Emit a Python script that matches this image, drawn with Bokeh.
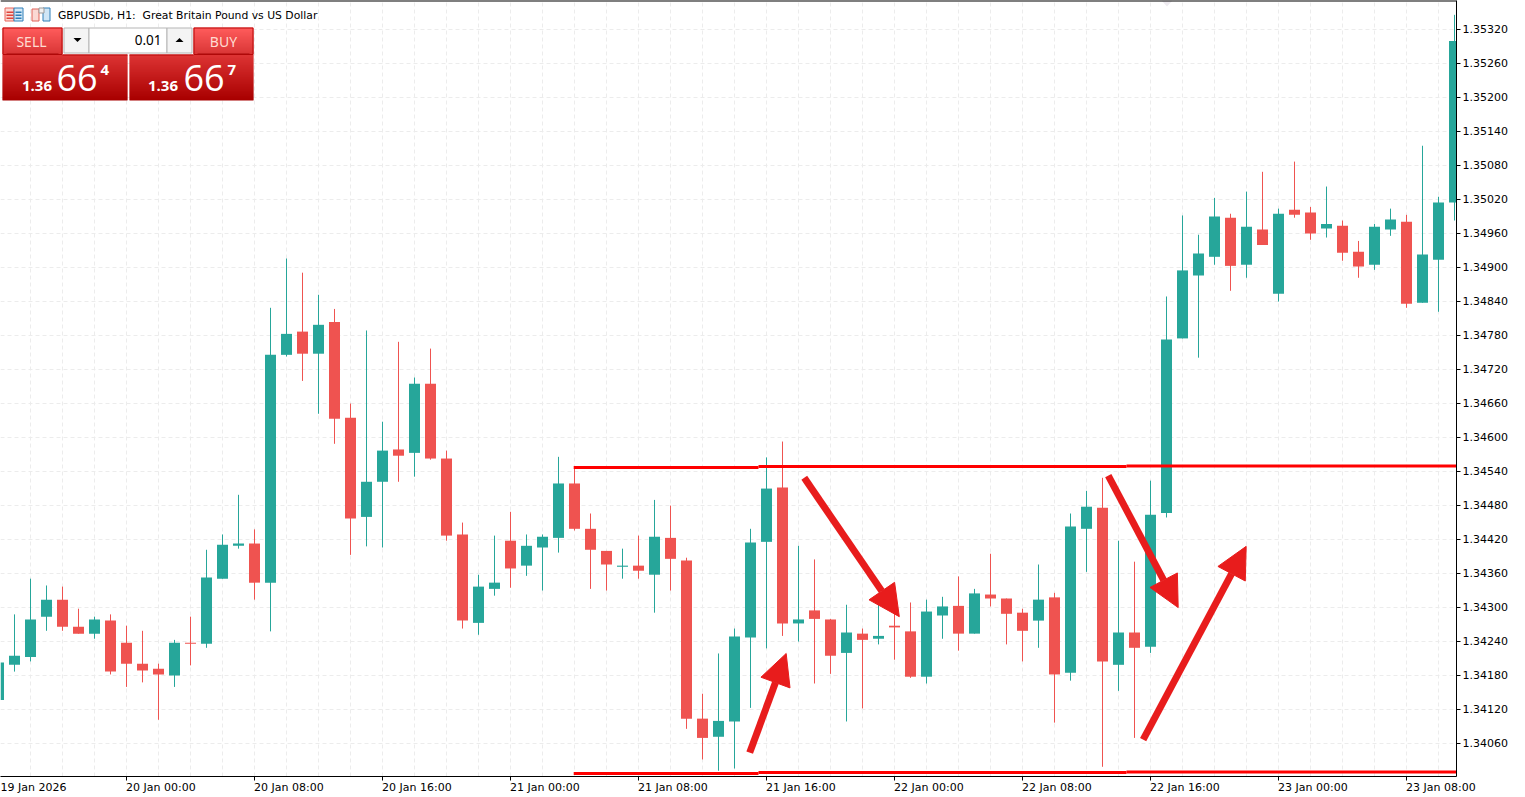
from bokeh.plotting import figure
from bokeh.models import FixedTicker, Arrow, NormalHead, Span, Range1d
from bokeh.core.properties import value
from bokeh.embed import file_html
from bokeh.resources import INLINE

opens = [1.34136,1.34198,1.34212,1.34283,1.34313,1.34265,1.34253,1.34276,1.34237,1.34200,1.34191,1.34179,1.34237,1.34235,1.34350,1.34408,
1.34412,1.34343,1.34745,1.34786,1.34747,1.34803,1.34634,1.34459,1.34521,1.34578,1.34572,1.34694,1.34562,1.34428,1.34272,1.34332,
1.34417,1.34373,1.34405,1.34422,1.34518,1.34438,1.34399,1.34371,1.34373,1.34357,1.34422,1.34382,1.34103,1.34071,1.34098,1.34246,
1.34415,1.34511,1.34271,1.34294,1.34278,1.34219,1.34253,1.34244,1.34267,1.34257,1.34177,1.34285,1.34302,1.34253,1.34322,1.34315,
1.34290,1.34276,1.34317,1.34184,1.34438,1.34475,1.34198,1.34255,1.34230,1.34466,1.34774,1.34885,1.34918,1.34987,1.34904,1.34966,
1.34853,1.35001,1.34996,1.34968,1.34973,1.34927,1.34904,1.34966,1.34980,1.34837,1.34913,1.35014]
closes = [1.34202,1.34214,1.34278,1.34313,1.34265,1.34253,1.34278,1.34186,1.34200,1.34188,1.34181,1.34237,1.34235,1.34352,1.34410,1.34412,
1.34343,1.34745,1.34782,1.34747,1.34798,1.34632,1.34456,1.34521,1.34576,1.34567,1.34694,1.34562,1.34426,1.34276,1.34336,1.34343,
1.34368,1.34408,1.34424,1.34518,1.34438,1.34401,1.34375,1.34373,1.34364,1.34424,1.34385,1.34103,1.34069,1.34099,1.34248,1.34414,
1.34509,1.34271,1.34278,1.34279,1.34214,1.34255,1.34242,1.34249,1.34264,1.34177,1.34292,1.34301,1.34253,1.34324,1.34315,1.34288,
1.34258,1.34313,1.34181,1.34442,1.34477,1.34204,1.34255,1.34228,1.34463,1.34772,1.34894,1.34924,1.34989,1.34902,1.34971,1.34939,
1.34994,1.34992,1.34959,1.34976,1.34925,1.34901,1.34971,1.34984,1.34835,1.34922,1.35014,1.35299]
highs = [1.34214,1.34287,1.34350,1.34338,1.34336,1.34297,1.34283,1.34287,1.34267,1.34258,1.34200,1.34242,1.34283,1.34401,1.34428,1.34498,
1.34437,1.34828,1.34915,1.34890,1.34851,1.34826,1.34659,1.34788,1.34627,1.34768,1.34705,1.34756,1.34576,1.34449,1.34357,1.34426,
1.34468,1.34428,1.34428,1.34565,1.34546,1.34465,1.34399,1.34403,1.34426,1.34489,1.34479,1.34387,1.34147,1.34218,1.34262,1.34438,
1.34564,1.34592,1.34408,1.34384,1.34279,1.34304,1.34262,1.34304,1.34288,1.34308,1.34313,1.34318,1.34354,1.34332,1.34394,1.34315,
1.34297,1.34375,1.34325,1.34465,1.34505,1.34528,1.34417,1.34380,1.34523,1.34848,1.34991,1.34957,1.35022,1.34994,1.35033,1.35068,
1.35003,1.35086,1.35006,1.35042,1.34982,1.34946,1.34976,1.35003,1.34992,1.35114,1.35024,1.35345]
lows = [1.34126,1.34186,1.34204,1.34258,1.34258,1.34253,1.34244,1.34181,1.34159,1.34167,1.34101,1.34159,1.34197,1.34228,1.34350,1.34403,
1.34313,1.34257,1.34742,1.34699,1.34641,1.34588,1.34392,1.34407,1.34405,1.34521,1.34530,1.34560,1.34417,1.34262,1.34251,1.34320,
1.34334,1.34355,1.34329,1.34396,1.34435,1.34332,1.34329,1.34350,1.34350,1.34290,1.34329,1.34085,1.34031,1.34011,1.34015,1.34122,
1.34227,1.34249,1.34239,1.34165,1.34182,1.34098,1.34121,1.34234,1.34207,1.34175,1.34165,1.34244,1.34223,1.34253,1.34301,1.34234,
1.34204,1.34228,1.34096,1.34170,1.34362,1.34018,1.34152,1.34069,1.34219,1.34458,1.34774,1.34740,1.34904,1.34858,1.34881,1.34939,
1.34839,1.34987,1.34948,1.34952,1.34911,1.34881,1.34895,1.34955,1.34828,1.34837,1.34821,1.34982]

price_ticks = [1.34060,1.34120,1.34180,1.34240,1.34300,1.34360,1.34420,1.34480,1.34540,1.34600,1.34660,1.34720,1.34780,1.34840,
               1.34900,1.34960,1.35020,1.35080,1.35140,1.35200,1.35260,1.35320]
time_ticks = [8, 16, 24, 32, 40, 48, 56, 64, 72, 80, 88]
time_labels = ["20 Jan 00:00", "20 Jan 08:00", "20 Jan 16:00", "21 Jan 00:00", "21 Jan 08:00",
               "21 Jan 16:00", "22 Jan 00:00", "22 Jan 08:00", "22 Jan 16:00", "23 Jan 00:00", "23 Jan 08:00"]
first_label = "19 Jan 2026"

# drawn range levels: (start bar, end bar, price)
upper_levels = [(35.95, 47.5, 1.34546), (47.5, 70.5, 1.34548), (70.5, 91.2, 1.34549)]
lower_levels = [(35.95, 47.5, 1.34006), (47.5, 70.5, 1.34008), (70.5, 91.2, 1.34009)]
# drawn arrows: (tail bar, tail price, tip bar, tip price)
arrows = [(46.95, 1.34043, 49.23, 1.34218), (50.36, 1.34528, 56.30, 1.34283),
          (69.36, 1.34532, 73.73, 1.34299), (71.54, 1.34066, 77.98, 1.34407)]

GREEN, RED = "#26a69a", "#ef5350"
Y_LOW, Y_HIGH = 1.340009, 1.353703
X_LOW, X_HIGH = 0.125, 91.125


def X(px):
    return (px + 2) / 16


def Y(py):
    return Y_HIGH - py * (Y_HIGH - Y_LOW) / 776


p = figure(width=1525, height=797, frame_width=1456, frame_height=776, output_backend="svg", toolbar_location=None,
           x_range=Range1d(X_LOW, X_HIGH), y_range=Range1d(Y_LOW, Y_HIGH), y_axis_location="right",
           min_border_left=0, min_border_top=0, min_border_right=0, min_border_bottom=0,
           outline_line_color=None, background_fill_color="white")

ax = p.yaxis[0]
ax.ticker = FixedTicker(ticks=price_ticks)
ax.major_label_overrides = {t: f"{t:.5f}" for t in price_ticks}
ax.major_tick_in = 0
ax.major_tick_out = 4
ax.minor_tick_line_color = None
ax.axis_line_color = "#000000"
ax.major_tick_line_color = "#000000"
ax.major_label_text_font = "DejaVu Sans"
ax.major_label_text_font_size = "11px"
ax.major_label_text_color = "#000000"
ax.major_label_standoff = 2

# The labels start at their tick mark: major ticks (unmarked) sit at the label centres, minor ticks are the marks.
label_shift = 2.15
label_pos = [t + label_shift for t in time_ticks]
first_pos = X(32)
bx = p.xaxis[0]
bx.ticker = FixedTicker(ticks=[first_pos] + label_pos, minor_ticks=time_ticks)
bx.major_label_overrides = {first_pos: first_label, **dict(zip(label_pos, time_labels))}
bx.major_tick_in = 0
bx.major_tick_out = 4
bx.major_tick_line_color = None
bx.minor_tick_in = 0
bx.minor_tick_out = 4
bx.minor_tick_line_color = "#000000"
bx.axis_line_color = "#000000"
bx.major_label_text_font = "DejaVu Sans"
bx.major_label_text_font_size = "11px"
bx.major_label_text_color = "#000000"
bx.major_label_standoff = 0

p.xgrid[0].ticker = FixedTicker(ticks=list(range(2, 92, 2)))
p.ygrid[0].ticker = FixedTicker(ticks=price_ticks)
for g in (p.xgrid[0], p.ygrid[0]):
    g.grid_line_color = "#ececec"
    g.grid_line_dash = "4 3"
    g.grid_line_width = 1

p.add_layout(Span(location=Y_HIGH, dimension="width", line_color="#000000", line_width=2))

bars = list(range(len(opens)))
colors = [GREEN if c >= o else RED for o, c in zip(opens, closes)]
p.segment(bars, highs, bars, lows, line_color=colors, line_width=1)
p.vbar(bars, 0.6875, [max(o, c) for o, c in zip(opens, closes)], [min(o, c) for o, c in zip(opens, closes)],
       fill_color=colors, line_color=None)

for levels in (upper_levels, lower_levels):
    p.segment([l[0] for l in levels], [l[2] for l in levels], [l[1] for l in levels], [l[2] for l in levels],
              line_color="#ff0000", line_width=3)

for a in arrows:
    p.add_layout(Arrow(end=NormalHead(size=31, fill_color="#e81c1c", line_color="#e81c1c", line_width=1),
                       x_start=a[0], y_start=a[1], x_end=a[2], y_end=a[3], line_color="#e81c1c", line_width=7))


# --- trading panel, icons and title ---
def box(x0, y0, x1, y1, fill, line=None, lw=1):
    p.quad(left=X(x0), right=X(x1), top=Y(y0), bottom=Y(y1), fill_color=fill, line_color=line, line_width=lw)


def lerp(c0, c1, t):
    a = [int(c0[i:i + 2], 16) for i in (1, 3, 5)]
    b = [int(c1[i:i + 2], 16) for i in (1, 3, 5)]
    return "#%02x%02x%02x" % tuple(round(u + (v - u) * t) for u, v in zip(a, b))


def gradient(x0, y0, x1, y1, c0, c1):
    n = y1 - y0
    for k in range(n):
        box(x0, y0 + k, x1, min(y0 + k + 1.6, y1), lerp(c0, c1, k / max(n - 1, 1)))


def txt(px, py, s, size, font="Noto Sans", color="#ffffff", align="left", style="normal"):
    p.text([X(px)], [Y(py)], text=[s], text_font=value(font), text_font_size=f"{size}px", text_color=color,
           text_align=align, text_baseline="middle", text_font_style=style)


# scale-fix marker
p.patch([X(1161), X(1172), X(1166.5)], [Y(0), Y(0), Y(6)], fill_color="#eeebf0", line_color=None)

# icons
box(4.5, 7.5, 13.5, 20.5, "#fbd9d4", "#e8645a")
box(13.5, 7.5, 22.5, 20.5, "#d4e9f7", "#2f7fb8")
for yy in (11, 14, 17):
    box(6, yy, 13, yy + 1.4, "#e0443a")
    box(15, yy, 21, yy + 1.4, "#2f7fb8")
box(31.5, 8.5, 38.5, 20.5, "#fbd9d4", "#e0645a")
box(42.5, 7.5, 49.5, 20.5, "#cfe6f6", "#2f7fb8")
box(38.5, 7.5, 43.5, 12.5, "#f2f2f2", "#9a9a9a")

txt(57.5, 14.5, "GBPUSDb, H1:\u00a0 Great Britain Pound vs US Dollar", 10.8, font="DejaVu Sans", color="#000000")

# sell side
gradient(2, 27, 62, 54, "#ff5c5c", "#d93636")
gradient(2, 54, 127, 100, "#dd3434", "#a80000")
box(2.5, 27.5, 61.5, 54, None, "#b80808")
box(62, 54, 127, 55, "#b80808")
box(6, 53, 58, 54, "#a80808")
txt(31, 40.5, "SELL", 14, color="#ffdcd2", align="center")
txt(21.5, 85.5, "1.36", 15, font="Open Sans", style="bold")
txt(56, 77, "66", 36, font="Open Sans")
txt(100, 69, "4", 15, font="Open Sans", style="bold")

# lot box
box(63, 27, 193, 53, "#ffffff")
box(63.5, 27.5, 88.5, 52.5, "#f4f4f4", "#b5b5b5")
box(88.5, 27.5, 166.5, 52.5, "#ffffff", "#b5b5b5")
box(166.5, 27.5, 191.5, 52.5, "#f4f4f4", "#b5b5b5")
p.patch([X(73), X(81), X(77)], [Y(37.5), Y(37.5), Y(41.5)], fill_color="#000000", line_color=None)
p.patch([X(175), X(183), X(179)], [Y(41.5), Y(41.5), Y(37.5)], fill_color="#000000", line_color=None)
txt(161, 39.5, "0.01", 13.5, color="#000000", align="right")

# buy side
gradient(193, 27, 253, 54, "#ff5c5c", "#d93636")
gradient(129, 54, 253, 100, "#dd3434", "#a80000")
box(193.5, 27.5, 252.5, 54, None, "#b80808")
box(129, 54, 193, 55, "#b80808")
box(197, 53, 249, 54, "#a80808")
txt(223, 40.5, "BUY", 14, color="#ffdcd2", align="center")
txt(147.5, 85.5, "1.36", 15, font="Open Sans", style="bold")
txt(183, 77, "66", 36, font="Open Sans")
txt(227, 69, "7", 15, font="Open Sans", style="bold")

open("out.html", "w").write(file_html(p, INLINE))
